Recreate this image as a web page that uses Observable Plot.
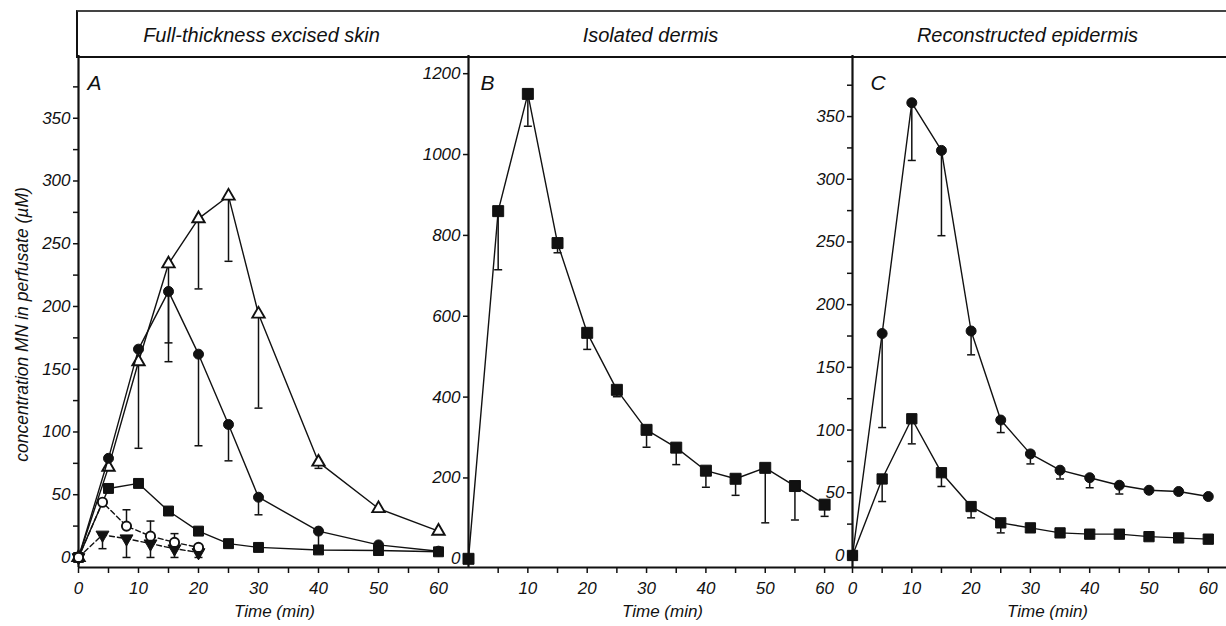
<!DOCTYPE html>
<html><head><meta charset="utf-8">
<script src="https://cdn.jsdelivr.net/npm/d3@7"></script>
<script src="https://cdn.jsdelivr.net/npm/@observablehq/plot@0.6"></script>
<style>
html,body{margin:0;padding:0;background:#fff;}
#chart{position:relative;width:1226px;height:626px;overflow:hidden;font-family:"Liberation Sans",Arial,sans-serif;}
.panel{position:absolute;top:0;height:626px;}
.hdr{position:absolute;left:76px;top:10px;width:1150px;height:44px;border-top:2px solid #444;border-bottom:2px solid #111;border-left:2px solid #111;box-sizing:content-box;}
</style></head><body><div id="chart"><div class="hdr"></div></div>
<script>
// ---------- data ----------
const headers = ["Full-thickness excised skin", "Isolated dermis", "Reconstructed epidermis"];
const panelLetters = ["A", "B", "C"];
const yLabel = "concentration MN in perfusate (\u00b5M)";
const xLabel = "Time (min)";

// Panel A
const timeA = [0, 5, 10, 15, 20, 25, 30, 40, 50, 60];
const aOpenTriangle = [0, 72, 156, 234, 270, 288, 194, 76, 39, 21];
const aOpenTriangleSD = [0, 0, 69, 78, 56, 52, 75, 5, 0, 0];
const aFilledCircle = [0, 79, 166, 212, 162, 106, 48, 21, 10, 5];
const aFilledCircleSD = [0, 0, 0, 41, 73, 29, 14, 12, 0, 0];
const aFilledSquare = [0, 55, 59, 37, 21, 11, 8, 6, 5.5, 4.5];
const aFilledSquareSD = [0, 0, 0, 0, 0, 0, 0, 0, 0, 0];
const timeA2 = [0, 4, 8, 12, 16, 20];
const aOpenCircle = [0, 44, 25, 17, 12, 8];
const aOpenCircleSD = [0, 0, 13, 12, 7, 2];
const aFilledInvTriangle = [0, 18, 15, 11, 7, 4];
const aFilledInvTriangleSD = [0, 11, 15, 11, 7, 4];

// Panel B
const timeBC = [0, 5, 10, 15, 20, 25, 30, 35, 40, 45, 50, 55, 60];
const bFilledSquare = [0, 860, 1150, 781, 559, 418, 319, 275, 218, 198, 225, 180, 134];
const bFilledSquareSD = [0, 145, 80, 24, 41, 17, 43, 42, 41, 41, 136, 84, 29];

// Panel C
const cFilledCircle = [0, 177, 361, 323, 179, 108, 81, 68, 62, 56, 52, 51, 47];
const cFilledCircleSD = [0, 75, 46, 68, 19, 10, 8, 7, 8, 7, 0, 0, 0];
const cFilledSquare = [0, 61, 109, 66, 39, 26, 22, 18, 17, 17, 15, 14, 13];
const cFilledSquareSD = [0, 18, 20, 11, 9, 8, 0, 0, 0, 0, 0, 0, 0];

// Tick values
const yTicksAC = [0, 50, 100, 150, 200, 250, 300, 350];
const yMinorAC = [25, 75, 125, 175, 225, 275, 325, 375];
const yTicksB = [0, 200, 400, 600, 800, 1000, 1200];
const xTicks = [0, 10, 20, 30, 40, 50, 60];
const xTicksB = [10, 20, 30, 40, 50, 60];
const xMinor = [5, 15, 25, 35, 45, 55];

// ---------- helpers ----------
function rows(t, v, sd, dir = -1) {
  return t.map((d, i) => ({t: d, v: v[i], end: v[i] + dir * sd[i], sd: sd[i]}));
}
const ink = "#111";
const plain = d => String(d);
const capSymbol = {draw(ctx) { ctx.moveTo(-4, 0); ctx.lineTo(4, 0); }};

function seriesMarks(data, {symbol, r, fill, dashed, rotate}) {
  const withErr = data.filter(d => d.sd > 0);
  return [
    Plot.line(data, {x: "t", y: "v", stroke: ink, strokeWidth: 1.4, strokeDasharray: dashed ? "5,3" : undefined}),
    Plot.ruleX(withErr, {x: "t", y1: "v", y2: "end", stroke: ink, strokeWidth: 1.5}),
    Plot.dot(withErr, {x: "t", y: "end", symbol: capSymbol, r: 4, stroke: ink, strokeWidth: 1.5, fill: "none"}),
    Plot.dot(data, {x: "t", y: "v", symbol, r, fill, stroke: ink, strokeWidth: fill === "white" ? 1.9 : 1, rotate: rotate || 0})
  ];
}

const svgStyle = "background: transparent; overflow: visible; font-family: 'Liberation Sans', Arial, sans-serif; font-size: 17px; font-style: italic; color: #111;";

function panel({left, width, marginLeft, marginRight, xDomain, yDomain, yMajor, yMinor, xMajor, header, headerDx, letter, letterDx, labelDx, extra, series}) {
  const marks = [
    Plot.axisY(yMajor, {tickSize: 5, tickPadding: 3, tickFormat: plain, label: null, strokeWidth: 1.5}),
    ...(yMinor ? [Plot.axisY(yMinor, {tickSize: 5, tickFormat: () => "", label: null, strokeWidth: 1.5})] : []),
    Plot.axisX(xMajor, {anchor: "bottom", tickSize: 6, tickPadding: 8, tickFormat: plain, label: null, strokeWidth: 1.5}),
    Plot.axisX(xMinor, {anchor: "bottom", tickSize: 6, tickFormat: () => "", label: null, strokeWidth: 1.5}),
    Plot.ruleX([xDomain[0]], {stroke: ink, strokeWidth: 2.2}),
    Plot.ruleY([yDomain[0]], {stroke: ink, strokeWidth: 2.2}),
    Plot.text([header], {frameAnchor: "top", lineAnchor: "bottom", dy: -14, dx: headerDx, fontSize: 20}),
    Plot.text([letter], {frameAnchor: "top-left", lineAnchor: "bottom", dx: letterDx, dy: 34, fontSize: 21}),
    Plot.text([xLabel], {frameAnchor: "bottom", lineAnchor: "bottom", dy: 49, dx: labelDx, fontSize: 17}),
    ...(extra || []),
    ...series
  ];
  const svg = Plot.plot({
    width, height: 626,
    marginLeft, marginRight, marginTop: 55, marginBottom: 59,
    x: {domain: xDomain},
    y: {domain: yDomain},
    style: svgStyle,
    marks
  });
  const div = document.createElement("div");
  div.className = "panel";
  div.style.left = left + "px";
  div.style.width = width + "px";
  div.appendChild(svg);
  document.getElementById("chart").appendChild(div);
}

// Panel A
panel({
  left: 0, width: 470, marginLeft: 78, marginRight: 2,
  xDomain: [0, 65], yDomain: [-8, 400],
  yMajor: yTicksAC, yMinor: yMinorAC, xMajor: xTicks,
  header: headers[0], headerDx: -12, letter: panelLetters[0], letterDx: 9, labelDx: 1,
  extra: [Plot.text([yLabel], {frameAnchor: "left", textAnchor: "middle", lineAnchor: "middle", rotate: -90, dx: -56, dy: 13, fontSize: 17.5})],
  series: [
    ...seriesMarks(rows(timeA, aOpenTriangle, aOpenTriangleSD), {symbol: "triangle", r: 4.6, fill: "white"}),
    ...seriesMarks(rows(timeA, aFilledCircle, aFilledCircleSD), {symbol: "circle", r: 5, fill: ink}),
    ...seriesMarks(rows(timeA, aFilledSquare, aFilledSquareSD), {symbol: "square", r: 5.6, fill: ink}),
    ...seriesMarks(rows(timeA2, aFilledInvTriangle, aFilledInvTriangleSD), {symbol: "triangle", r: 4.8, fill: ink, dashed: true, rotate: 180}),
    ...seriesMarks(rows(timeA2, aOpenCircle, aOpenCircleSD, 1), {symbol: "circle", r: 4.6, fill: "white", dashed: true})
  ]
});

// Panel B
panel({
  left: 400, width: 460, marginLeft: 68, marginRight: 8,
  xDomain: [0, 64.7], yDomain: [-21.5, 1245],
  yMajor: yTicksB, yMinor: null, xMajor: xTicksB,
  header: headers[1], headerDx: -10, letter: panelLetters[1], letterDx: 12, labelDx: 2,
  series: [
    ...seriesMarks(rows(timeBC, bFilledSquare, bFilledSquareSD), {symbol: "square", r: 6.2, fill: ink})
  ]
});

// Panel C
panel({
  left: 790, width: 436, marginLeft: 62, marginRight: 0,
  xDomain: [0, 63.07], yDomain: [-9.6, 398.7],
  yMajor: yTicksAC, yMinor: yMinorAC, xMajor: xTicks,
  header: headers[2], headerDx: -12, letter: panelLetters[2], letterDx: 18, labelDx: 8,
  series: [
    ...seriesMarks(rows(timeBC, cFilledCircle, cFilledCircleSD), {symbol: "circle", r: 5, fill: ink}),
    ...seriesMarks(rows(timeBC, cFilledSquare, cFilledSquareSD), {symbol: "square", r: 5.8, fill: ink})
  ]
});
</script></body></html>
